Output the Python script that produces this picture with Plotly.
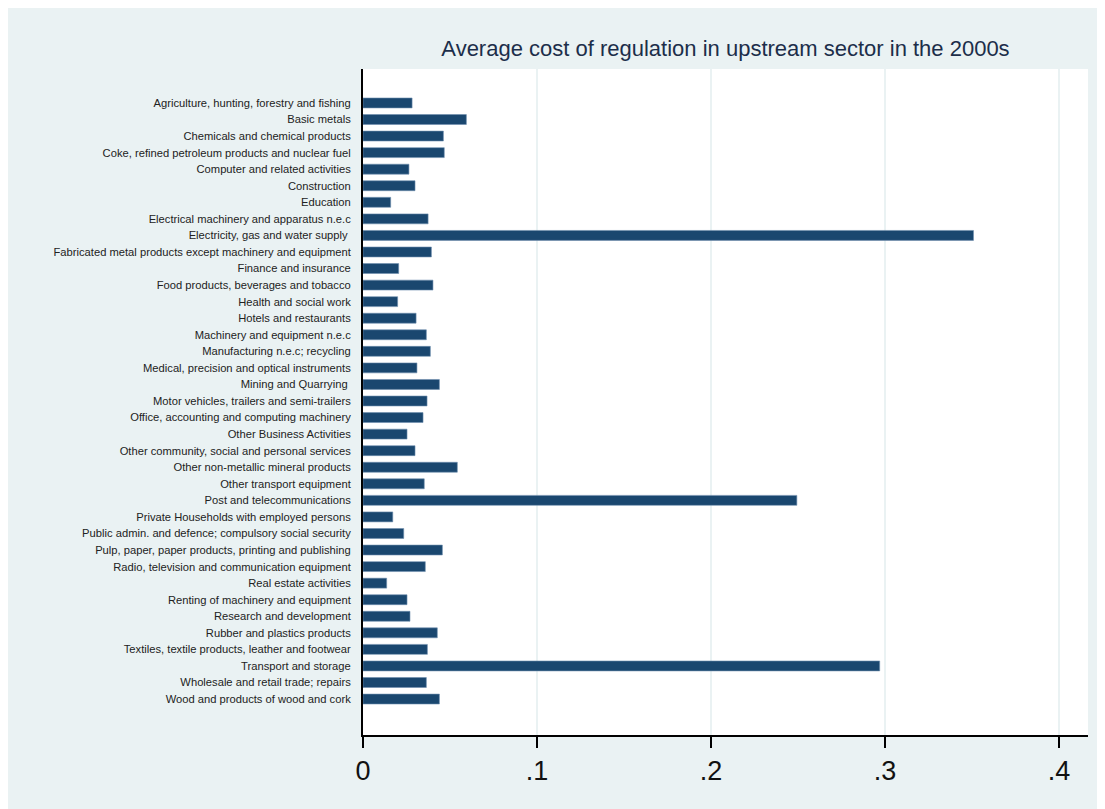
import plotly.graph_objects as go

sectors = [
    "Agriculture, hunting, forestry and fishing",
    "Basic metals",
    "Chemicals and chemical products",
    "Coke, refined petroleum products and nuclear fuel",
    "Computer and related activities",
    "Construction",
    "Education",
    "Electrical machinery and apparatus n.e.c",
    "Electricity, gas and water supply\u00a0",
    "Fabricated metal products except machinery and equipment",
    "Finance and insurance",
    "Food products, beverages and tobacco",
    "Health and social work",
    "Hotels and restaurants",
    "Machinery and equipment n.e.c",
    "Manufacturing n.e.c; recycling",
    "Medical, precision and optical instruments",
    "Mining and Quarrying\u00a0",
    "Motor vehicles, trailers and semi-trailers",
    "Office, accounting and computing machinery",
    "Other Business Activities",
    "Other community, social and personal services",
    "Other non-metallic mineral products",
    "Other transport equipment",
    "Post and telecommunications",
    "Private Households with employed persons",
    "Public admin. and defence; compulsory social security",
    "Pulp, paper, paper products, printing and publishing",
    "Radio, television and communication equipment",
    "Real estate activities",
    "Renting of machinery and equipment",
    "Research and development",
    "Rubber and plastics products",
    "Textiles, textile products, leather and footwear",
    "Transport and storage",
    "Wholesale and retail trade; repairs",
    "Wood and products of wood and cork",
]

avg_cost = [
    0.0282, 0.0594, 0.0462, 0.0467, 0.0264, 0.0299, 0.0159, 0.0374,
    0.3508, 0.0393, 0.0205, 0.0402, 0.0199, 0.0305, 0.0364, 0.0387,
    0.0310, 0.0439, 0.0368, 0.0345, 0.0253, 0.0299, 0.0542, 0.0352,
    0.2493, 0.0171, 0.0234, 0.0456, 0.0358, 0.0136, 0.0253, 0.0270,
    0.0427, 0.0370, 0.2969, 0.0364, 0.0439,
]

x_ticks = [0, 0.1, 0.2, 0.3, 0.4]
x_tick_labels = ["0", ".1", ".2", ".3", ".4"]

positions = list(range(len(sectors)))

BG = "#EAF2F3"
BAR = "#1A476F"

fig = go.Figure(
    go.Bar(
        x=avg_cost,
        y=positions,
        orientation="h",
        width=0.6,
        marker=dict(color=BAR, line=dict(color="#6f8fae", width=0.6)),
        showlegend=False,
    )
)

W, H = 1097, 801
L, R, T, B = 355, 17, 61, 74
pw, ph = W - L - R, H - T - B

fig.update_layout(
    width=W,
    height=H,
    margin=dict(l=L, r=R, t=T, b=B, pad=0),
    paper_bgcolor=BG,
    plot_bgcolor="white",
    font=dict(family="Liberation Sans, Arial, sans-serif", color="#222222"),
    title=dict(
        text="Average cost of regulation in upstream sector in the 2000s",
        x=(L + pw / 2) / W,
        xanchor="center",
        y=1 - 40 / H,
        yanchor="middle",
        font=dict(size=22, color="#1c2e4a"),
    ),
    bargap=0.4,
)

fig.update_xaxes(
    range=[0, 0.4166],
    tickvals=x_ticks,
    ticktext=x_tick_labels,
    tickfont=dict(size=27, color="#111111"),
    showline=True,
    linecolor="black",
    linewidth=2,
    ticks="outside",
    ticklen=11,
    tickwidth=2,
    tickcolor="black",
    showgrid=True,
    gridcolor=BG,
    gridwidth=2,
    zeroline=False,
    mirror=False,
)

fig.update_yaxes(
    range=[len(sectors) - 1 + 2.17, -2.05],
    tickvals=positions,
    ticktext=sectors,
    tickfont=dict(size=11.2, color="#222222"),
    showline=True,
    linecolor="black",
    linewidth=2,
    ticks="outside",
    ticklen=8,
    tickcolor="rgba(0,0,0,0)",
    showgrid=False,
    zeroline=False,
)

fig.write_html("out.html")
